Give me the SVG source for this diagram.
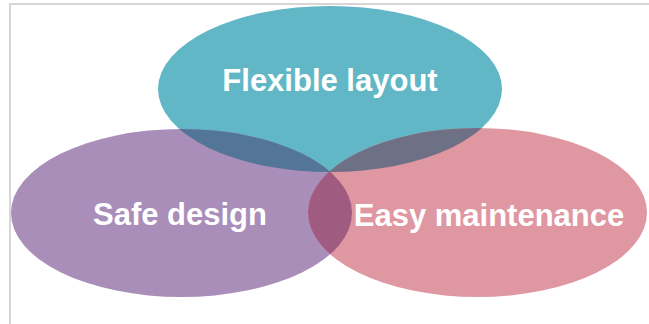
<svg xmlns="http://www.w3.org/2000/svg" width="649" height="324" viewBox="0 0 649 324">
<style>
.lbl{font-family:"Liberation Sans",Arial,sans-serif;font-weight:bold;font-size:31px;fill:#ffffff;text-anchor:middle}
.frame{stroke:#d6d6d6;stroke-width:2;fill:none}
</style>
<defs>
<clipPath id="cp"><ellipse cx="181.5" cy="213" rx="170.5" ry="84"/></clipPath>
<clipPath id="cr"><ellipse cx="477.5" cy="212.5" rx="169.5" ry="84.5"/></clipPath>
</defs>
<rect width="649" height="324" fill="#ffffff"/>
<g id="frame">
<line class="frame" x1="9" y1="4" x2="649" y2="4"/>
<line class="frame" x1="10" y1="3" x2="10" y2="324"/>
</g>
<g id="node-flexible">
<ellipse cx="330" cy="89" rx="172" ry="83" fill="#62b7c6"/>
</g>
<g id="node-safe">
<ellipse cx="181.5" cy="213" rx="170.5" ry="84" fill="#a98eb9"/>
</g>
<g id="node-easy">
<ellipse cx="477.5" cy="212.5" rx="169.5" ry="84.5" fill="#df97a2"/>
</g>
<g id="overlaps">
<ellipse cx="330" cy="89" rx="172" ry="83" fill="#537598" clip-path="url(#cp)"/>
<ellipse cx="330" cy="89" rx="172" ry="83" fill="#6e7185" clip-path="url(#cr)"/>
<ellipse cx="181.5" cy="213" rx="170.5" ry="84" fill="#9f5b80" clip-path="url(#cr)"/>
</g>
<g id="labels">
<text class="lbl" x="330" y="91">Flexible layout</text>
<text class="lbl" x="180" y="225">Safe design</text>
<text class="lbl" x="489" y="226">Easy maintenance</text>
</g>
</svg>
